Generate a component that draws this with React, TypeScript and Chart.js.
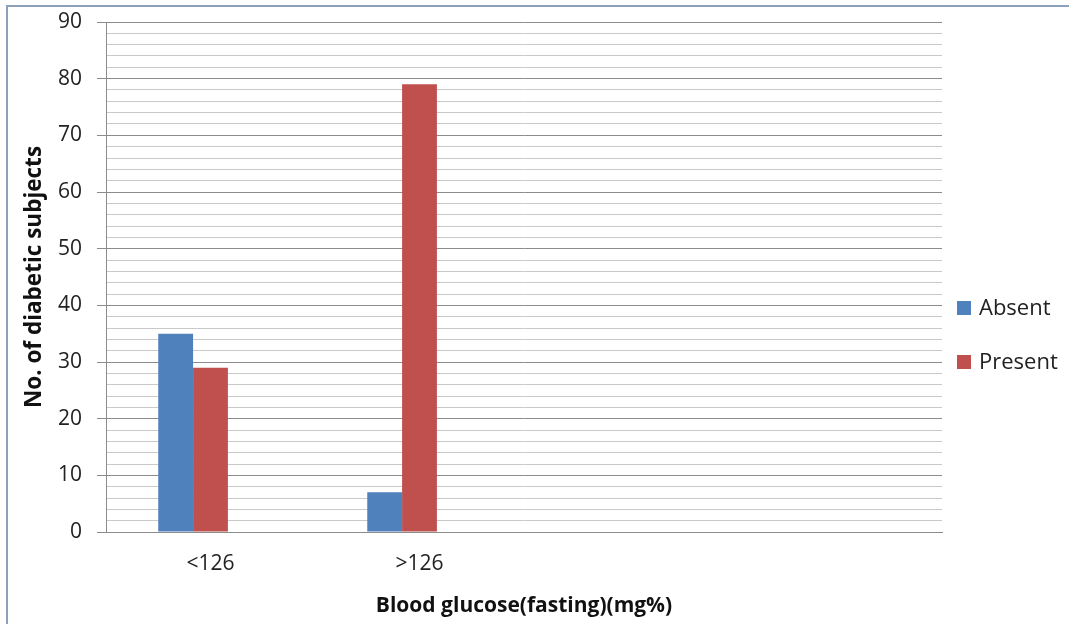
import React, { useEffect, useRef } from "react";
import { Chart, registerables } from "chart.js";

Chart.register(...registerables);

// Fasting blood glucose groups (the two trailing slots are empty)
const categories: string[] = ["<126", ">126", "", ""];
const absentValues: (number | null)[] = [35, 7, null, null];
const presentValues: (number | null)[] = [29, 79, null, null];
// third, unused series slot keeps the bars of each group shifted left
const spareValues: (number | null)[] = [null, null, null, null];

const seriesNames: string[] = ["Absent", "Present"];
const seriesColors: string[] = ["#4F81BD", "#C0504D"];

const yMax = 90;
const yMinorStep = 2;
const yLabelStep = 10;

const xTitle = "Blood glucose(fasting)(mg%)";
const yTitle = "No. of diabetic subjects";

const FONT = "'Open Sans', 'DejaVu Sans', sans-serif";

// Legend drawn at the right of the plot, one row per named series
const sideLegend = {
  id: "sideLegend",
  afterDraw(chart: any) {
    const ctx = chart.ctx;
    const area = chart.chartArea;
    const items = chart.data.datasets.filter((d: any) => d.label);
    const rowGap = 54;
    const startY = (area.top + area.bottom) / 2 + 58 - ((items.length - 1) * rowGap) / 2;
    ctx.save();
    ctx.font = `22px ${FONT}`;
    ctx.textBaseline = "middle";
    ctx.textAlign = "left";
    items.forEach((d: any, i: number) => {
      const cy = startY + i * rowGap;
      const x0 = area.right + 15;
      ctx.fillStyle = d.backgroundColor;
      ctx.fillRect(x0, cy - 7, 14, 14);
      ctx.fillStyle = "#222";
      ctx.fillText(d.label, x0 + 22, cy + 1);
    });
    ctx.restore();
  },
};

export default function App() {
  const canvasRef = useRef<HTMLCanvasElement | null>(null);

  useEffect(() => {
    const canvas = canvasRef.current;
    if (!canvas) return;
    const chart = new Chart(canvas, {
      type: "bar",
      data: {
        labels: categories,
        datasets: [
          { label: seriesNames[0], data: absentValues, backgroundColor: seriesColors[0] },
          { label: seriesNames[1], data: presentValues, backgroundColor: seriesColors[1] },
          { label: "", data: spareValues, backgroundColor: "rgba(0,0,0,0)" },
        ],
      },
      options: {
        responsive: false,
        animation: false,
        layout: { padding: { top: 22, right: 127, left: 0, bottom: 0 } },
        datasets: {
          bar: { categoryPercentage: 0.5, barPercentage: 1.0 },
        },
        plugins: {
          legend: { display: false },
          tooltip: { enabled: false },
        },
        scales: {
          x: {
            grid: { display: false, drawTicks: false },
            border: { display: true, color: "#8c8c8c", width: 1 },
            ticks: {
              color: "#222",
              font: { family: FONT, size: 21 },
              padding: 19,
              maxRotation: 0,
              autoSkip: false,
            },
            title: {
              display: true,
              text: xTitle,
              color: "#111",
              font: { family: FONT, size: 21, weight: "bold" },
              padding: { top: 0, bottom: 5 },
            },
            afterFit: (scale: any) => {
              scale.height = 92;
              scale.paddingLeft = 0;
              scale.paddingRight = 0;
            },
          },
          y: {
            min: 0,
            max: yMax,
            ticks: {
              stepSize: yMinorStep,
              autoSkip: false,
              color: "#222",
              font: { family: FONT, size: 21 },
              padding: 15,
              callback: (v: any) => (Number(v) % yLabelStep === 0 ? String(v) : ""),
            },
            grid: {
              color: (c: any) => (c.tick && c.tick.value % yLabelStep === 0 ? "#8c8c8c" : "#c9c9c9"),
              tickColor: (c: any) => (c.tick && c.tick.value % yLabelStep === 0 ? "#8c8c8c" : "rgba(0,0,0,0)"),
              tickLength: 9,
              lineWidth: 1,
            },
            border: { display: true, color: "#8c8c8c", width: 1 },
            title: {
              display: true,
              text: yTitle,
              color: "#111",
              font: { family: FONT, size: 22.5, weight: "bold" },
              padding: { top: 21, bottom: 0 },
            },
            afterFit: (scale: any) => {
              scale.width = 106;
              scale.paddingTop = 0;
              scale.paddingBottom = 0;
            },
          },
        },
      },
      plugins: [sideLegend],
    });
    return () => chart.destroy();
  }, []);

  return (
    <div style={{ position: "fixed", left: 0, top: 0, width: 1069, height: 624, background: "#fff" }}>
      <canvas ref={canvasRef} width={1069} height={624} style={{ position: "absolute", left: 0, top: 0 }} />
      <div
        style={{
          position: "absolute",
          left: 6,
          top: 5,
          width: 1069,
          height: 624,
          borderTop: "2px solid #8CA0BC",
          borderLeft: "2px solid #8CA0BC",
          pointerEvents: "none",
        }}
      />
    </div>
  );
}
